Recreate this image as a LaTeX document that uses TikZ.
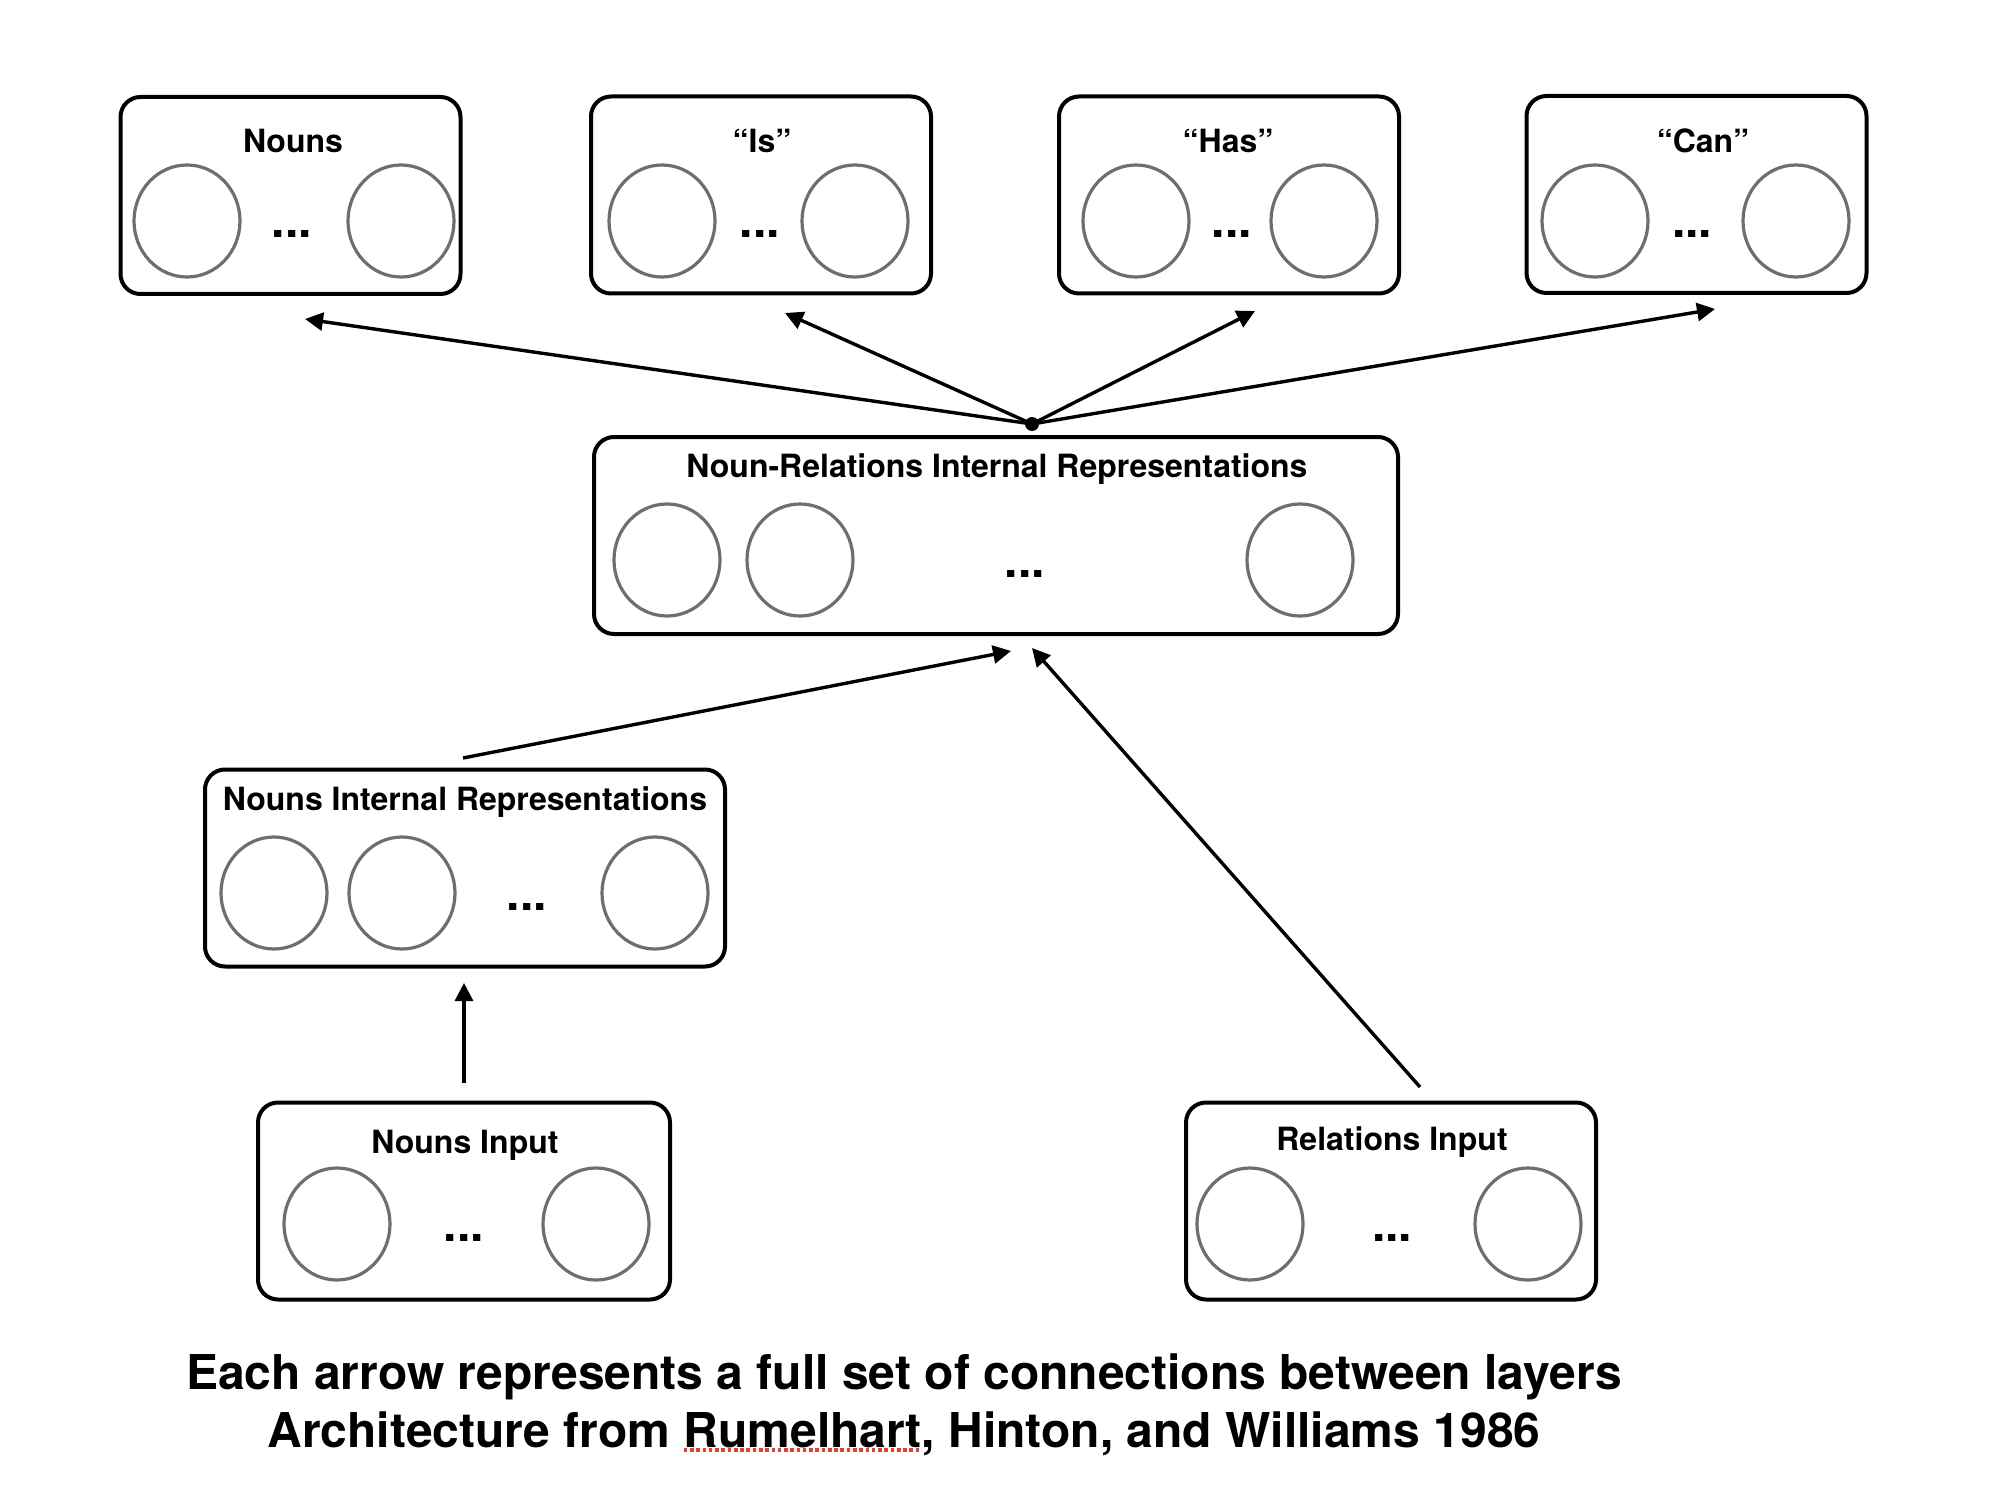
\documentclass[tikz,border=0pt]{standalone}
\usepackage{fontspec}
\setmainfont{TeX Gyre Heros}
\usetikzlibrary{arrows.meta,shapes.geometric}
\definecolor{unitgray}{HTML}{6E6E6E}
\definecolor{spellred}{HTML}{E0403A}
\newcommand{\spellcheck}[1]{\leavevmode\setbox0\hbox{#1}\rlap{\hbox to\wd0{\color{spellred}\xleaders\hbox{\rule[-2.5pt]{1.8pt}{1.8pt}\kern1.3pt}\hfill}}\box0}
\begin{document}
\begin{tikzpicture}[x=0.5pt, y=-0.5pt,
		layer/.style={draw, rounded corners=10pt, line width=2pt, minimum height=98.5pt, inner sep=0pt},
		unit/.style={ellipse, draw=unitgray, line width=1.6pt, minimum width=53pt, minimum height=56pt, inner sep=0pt},
		title/.style={anchor=base, font=\fontsize{16}{18}\selectfont\bfseries, inner sep=0pt},
		more/.style={font=\fontsize{24}{24}\selectfont\bfseries, inner sep=0pt},
		conn/.style={line width=1.7pt, -{Triangle[length=9pt,width=9pt]}},
		caption/.style={anchor=base, font=\fontsize{24}{26}\selectfont\bfseries, inner sep=0pt}]
		\useasboundingbox (0,0) rectangle (1992,1498);
		\node[layer, minimum width=170pt] (nouns) at (290.5,195.5) {};
		\node[layer, minimum width=170pt] (is) at (761,195) {};
		\node[layer, minimum width=170pt] (has) at (1229,195) {};
		\node[layer, minimum width=170pt] (can) at (1696.5,194.5) {};
		\node[layer, minimum width=402pt] (nrir) at (996,535.5) {};
		\node[layer, minimum width=260pt] (nir) at (465,868) {};
		\node[layer, minimum width=206pt] (ninput) at (464,1201) {};
		\node[layer, minimum width=205pt] (rinput) at (1391,1201) {};
		\node[title] (nouns-t) at (293,153) {Nouns};
		\node[title] (is-t) at (762,153) {“Is”};
		\node[title] (has-t) at (1228,153) {“Has”};
		\node[title] (can-t) at (1703,153) {“Can”};
		\node[title] (nrir-t) at (997,477) {Noun-Relations Internal Representations};
		\node[title] (nir-t) at (465,810) {Nouns Internal Representations};
		\node[title] (ninput-t) at (465,1153) {Nouns Input};
		\node[title] (rinput-t) at (1392,1150) {Relations Input};
		\node[unit] (nouns-a) at (187,221) {};
		\node[unit] (nouns-b) at (401,221) {};
		\node[unit] (is-a) at (662,221) {};
		\node[unit] (is-b) at (855,221) {};
		\node[unit] (has-a) at (1136,221) {};
		\node[unit] (has-b) at (1324,221) {};
		\node[unit] (can-a) at (1595,221) {};
		\node[unit] (can-b) at (1796,221) {};
		\node[unit] (nrir-a) at (667,560) {};
		\node[unit] (nrir-b) at (800,560) {};
		\node[unit] (nrir-c) at (1300,560) {};
		\node[unit] (nir-a) at (274,893) {};
		\node[unit] (nir-b) at (402,893) {};
		\node[unit] (nir-c) at (655,893) {};
		\node[unit] (ninput-a) at (337,1224) {};
		\node[unit] (ninput-b) at (596,1224) {};
		\node[unit] (rinput-a) at (1250,1224) {};
		\node[unit] (rinput-b) at (1528,1224) {};
		\node[more] (nouns-m) at (292,234) {...};
		\node[more] (is-m) at (760,234) {...};
		\node[more] (has-m) at (1232,234) {...};
		\node[more] (can-m) at (1692,234) {...};
		\node[more] (nrir-m) at (1025,574) {...};
		\node[more] (nir-m) at (527,907) {...};
		\node[more] (ninput-m) at (464,1238) {...};
		\node[more] (rinput-m) at (1392,1238) {...};
		\node[circle, fill, inner sep=0pt, minimum size=7pt] (hub) at (1032,424) {};
		\coordinate (nouns-in) at (305,319);
		\coordinate (is-in) at (785,313);
		\coordinate (has-in) at (1255,311);
		\coordinate (can-in) at (1715,309);
		\coordinate (nir-out) at (463,758);
		\coordinate (nrir-in1) at (1011,651);
		\coordinate (rinput-out) at (1420,1087);
		\coordinate (nrir-in2) at (1032,648);
		\coordinate (ninput-out) at (464,1083);
		\coordinate (nir-in) at (464,983);
		\draw[conn] (hub.center) -- (nouns-in);
		\draw[conn] (hub.center) -- (is-in);
		\draw[conn] (hub.center) -- (has-in);
		\draw[conn] (hub.center) -- (can-in);
		\draw[conn] (nir-out) -- (nrir-in1);
		\draw[conn] (rinput-out) -- (nrir-in2);
		\draw[conn] (ninput-out) -- (nir-in);
		\node[caption] (note) at (904,1389) {Each arrow represents a full set of connections between layers};
		\node[caption] (source) at (904,1447) {Architecture from \spellcheck{Rumelhart}, Hinton, and Williams 1986};
\end{tikzpicture}
\end{document}
